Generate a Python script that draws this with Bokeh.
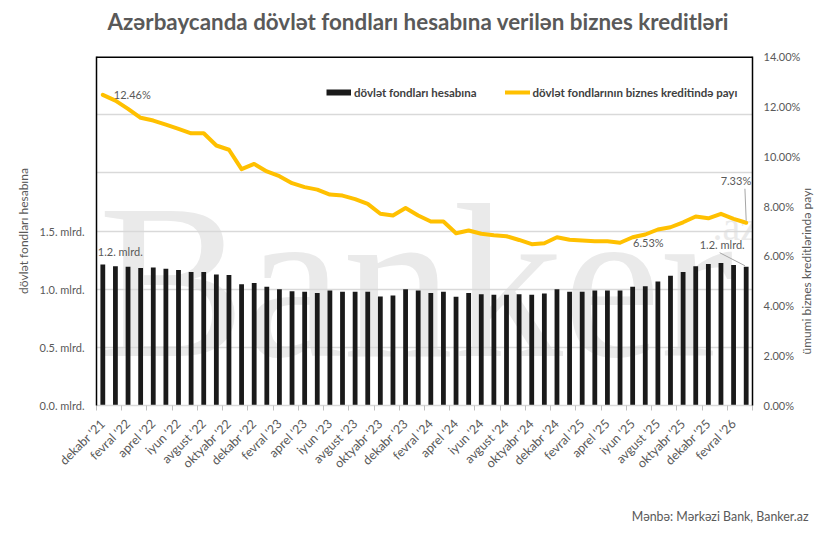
import math
from bokeh.plotting import figure
from bokeh.models import (Range1d, LinearAxis, FixedTicker, PrintfTickFormatter,
                          Label, Legend, LegendItem, Title, Span)
from bokeh.embed import file_html
from bokeh.resources import INLINE

# ---------------- data ----------------
months = [
    "dekabr '21",
    "yanvar '22", "fevral '22", "mart '22", "aprel '22", "may '22", "iyun '22",
    "iyul '22", "avgust '22", "sentyabr '22", "oktyabr '22", "noyabr '22", "dekabr '22",
    "yanvar '23", "fevral '23", "mart '23", "aprel '23", "may '23", "iyun '23",
    "iyul '23", "avgust '23", "sentyabr '23", "oktyabr '23", "noyabr '23", "dekabr '23",
    "yanvar '24", "fevral '24", "mart '24", "aprel '24", "may '24", "iyun '24",
    "iyul '24", "avgust '24", "sentyabr '24", "oktyabr '24", "noyabr '24", "dekabr '24",
    "yanvar '25", "fevral '25", "mart '25", "aprel '25", "may '25", "iyun '25",
    "iyul '25", "avgust '25", "sentyabr '25", "oktyabr '25", "noyabr '25", "dekabr '25",
    "yanvar '26", "fevral '26", "mart '26",
]

# business loans financed from state funds, bln AZN
state_funds = [
    1.213, 1.198, 1.193, 1.181, 1.187, 1.175, 1.164, 1.147, 1.147, 1.126,
    1.121, 1.043, 1.054, 1.020, 1.000, 0.983, 0.977, 0.968, 0.989, 0.977,
    0.977, 0.977, 0.937, 0.945, 1.000, 0.989, 0.968, 0.977, 0.934, 0.968,
    0.957, 0.951, 0.951, 0.957, 0.951, 0.963, 1.000, 0.977, 0.977, 0.989,
    0.989, 0.989, 1.020, 1.026, 1.066, 1.115, 1.147, 1.198, 1.216, 1.224,
    1.207, 1.193,
]

# share of state funds in total business loans, %
share = [
    12.46, 12.23, 11.90, 11.54, 11.43, 11.27, 11.10, 10.92, 10.92, 10.43,
    10.26, 9.48, 9.69, 9.39, 9.20, 8.92, 8.76, 8.66, 8.46, 8.42,
    8.28, 8.09, 7.69, 7.62, 7.92, 7.62, 7.38, 7.38, 6.91, 7.02,
    6.89, 6.83, 6.79, 6.64, 6.47, 6.51, 6.75, 6.65, 6.62, 6.59,
    6.59, 6.53, 6.75, 6.86, 7.06, 7.15, 7.35, 7.58, 7.51, 7.69,
    7.49, 7.33,
]

left_ticks = [0.0, 0.5, 1.0, 1.5, 2.0, 2.5, 3.0]
left_labels = {0.0: "0.0. mlrd.", 0.5: "0.5. mlrd.", 1.0: "1.0. mlrd.", 1.5: "1.5. mlrd.",
               2.0: "", 2.5: "", 3.0: ""}
right_ticks = [0, 2, 4, 6, 8, 10, 12, 14]

title_text = "Azərbaycanda dövlət fondları hesabına verilən biznes kreditləri"
bar_name = "dövlət fondları hesabına"
line_name = "dövlət fondlarının biznes kreditində payı"
left_title = "dövlət fondları hesabına"
right_title = "ümumi biznes kreditlərində payı"
source_text = "Mənbə: Mərkəzi Bank, Banker.az"
watermark = "Banker"
watermark_tail = ".az"

# ---------------- layout ----------------
FONT = "Lato"
GRAY = "#595959"
W, H = 829, 540
FL, FT, FW, FH = 96, 56, 656, 349            # plot frame in page px
N = len(months)
idx = list(range(N))

def dx(px):      # page px -> x data
    return -0.5 + (px - FL) / (FW / N)

def dy(py):      # page px -> left-axis data
    return (FT + FH - py) / (FH / 3.0)

p = figure(width=W, height=H, output_backend="svg", toolbar_location=None,
           x_range=Range1d(-0.5, N - 0.5), y_range=Range1d(0, 3.0),
           min_border_left=FL, min_border_right=W - FL - FW,
           min_border_top=FT, min_border_bottom=H - FT - FH)
p.extra_y_ranges = {"pct": Range1d(0, 14)}
p.outline_line_color = None
p.background_fill_color = "white"
p.border_fill_color = "white"

# title (trailing empty line lifts it away from the plot area)
p.title.text = title_text + "\n"
p.title.align = "left"
p.title.offset = 11
p.title.text_font = FONT
p.title.text_font_style = "bold"
p.title.text_font_size = "22.4px"
p.title.text_line_height = 0.8
p.title.text_color = GRAY
p.title.standoff = 0

# watermark (faint, behind everything)
p.add_layout(Label(x=dx(98), y=dy(281), text=watermark, text_font="Liberation Serif",
                   text_font_size="220px", text_color="#eaeaea", text_baseline="middle",
                   level="image"))
p.add_layout(Label(x=dx(712), y=dy(226), text=watermark_tail, text_font="Liberation Serif",
                   text_font_size="40px", text_color="#eaeaea", text_baseline="middle",
                   level="image"))

# grid
p.xgrid.grid_line_color = None
p.ygrid.ticker = FixedTicker(ticks=left_ticks)
p.ygrid.grid_line_color = "#d9d9d9"
p.ygrid.grid_line_width = 1.5

# bars & line
bars = p.vbar(x=idx, top=state_funds, width=0.38, fill_color="#1a1a1a", line_color=None)
ln = p.line(x=idx, y=share, y_range_name="pct", line_color="#FFC000", line_width=4,
            line_join="round", line_cap="round")
legend_proxy = p.line(x=idx, y=state_funds, line_color="#1a1a1a", line_width=6, visible=False)

# top border of the plot area
p.add_layout(Span(location=3.0, dimension="width", line_color="black", line_width=3))

# x axis: labels every 2nd month, tick marks between category pairs
xa = p.xaxis[0]
label_pos = list(range(0, N, 2))
try:
    xa.ticker = FixedTicker(ticks=label_pos, minor_ticks=[i - 0.5 for i in range(0, N + 1, 2)])
    xa.major_tick_line_color = None
    xa.minor_tick_line_color = "#bfbfbf"
    xa.minor_tick_out = 5
    xa.minor_tick_in = 0
except Exception:
    xa.ticker = FixedTicker(ticks=label_pos)
    xa.major_tick_line_color = "#bfbfbf"
    xa.minor_tick_line_color = None
xa.major_label_overrides = {i: months[i] for i in label_pos}
xa.major_label_orientation = math.pi / 4
xa.axis_line_color = "#d9d9d9"
xa.axis_line_width = 1.5
xa.major_tick_out = 5
xa.major_tick_in = 0
xa.major_label_text_font = FONT
xa.major_label_text_font_size = "12.5px"
xa.major_label_text_color = GRAY
xa.major_label_standoff = 11

# left axis
ya = p.yaxis[0]
ya.ticker = FixedTicker(ticks=left_ticks)
ya.major_label_overrides = left_labels
ya.axis_line_color = "black"
ya.axis_line_width = 1.5
ya.major_tick_line_color = None
ya.major_tick_out = 0
ya.major_tick_in = 0
ya.minor_tick_line_color = None
ya.major_label_text_font = FONT
ya.major_label_text_font_size = "11px"
ya.major_label_text_color = GRAY
ya.major_label_standoff = 12
ya.axis_label = left_title
ya.axis_label_text_font = FONT
ya.axis_label_text_font_style = "normal"
ya.axis_label_text_font_size = "12px"
ya.axis_label_text_color = GRAY
ya.axis_label_standoff = 6

# right axis
ra = LinearAxis(y_range_name="pct", ticker=FixedTicker(ticks=right_ticks),
                formatter=PrintfTickFormatter(format="%.2f%%"))
ra.axis_line_color = "black"
ra.axis_line_width = 1.5
ra.major_tick_line_color = None
ra.major_tick_out = 0
ra.major_tick_in = 0
ra.minor_tick_line_color = None
ra.major_label_text_font = FONT
ra.major_label_text_font_size = "11px"
ra.major_label_text_color = GRAY
ra.major_label_standoff = 11
ra.axis_label_text_font = FONT
ra.axis_label_text_font_style = "normal"
ra.axis_label_text_font_size = "12px"
ra.axis_label_text_color = GRAY
ra.axis_label_standoff = 3
# read bottom-to-top like the reference; the label then starts at its anchor,
# so anchor it at the bottom and pad it up to the middle of the axis
pad = ""
try:
    ra.axis_label_orientation = math.pi / 2
    try:
        ra.axis_label_align = "start"
        pad = "\u2003" * 5 + "\u2002"
    except Exception:
        ra.axis_label_orientation = "parallel"
except Exception:
    pass
ra.axis_label = pad + right_title
p.add_layout(ra, "right")

# source note
p.add_layout(Title(text="\n" + source_text, align="right", offset=-56, text_font=FONT,
                   text_font_style="normal", text_font_size="12.4px", text_color=GRAY,
                   standoff=24), "below")

# data labels
lbl = dict(text_font=FONT, text_font_size="11px", text_color=GRAY, text_baseline="middle")
p.add_layout(Label(x=0, y=share[0], y_range_name="pct", x_offset=11,
                   text=f"{share[0]:.2f}%", text_align="left", **lbl))
p.add_layout(Label(x=41, y=share[41], y_range_name="pct", x_offset=13,
                   text=f"{share[41]:.2f}%", text_align="left", **lbl))
p.add_layout(Label(x=N - 1, y=share[-1], y_range_name="pct", x_offset=5, y_offset=42,
                   text=f"{share[-1]:.2f}%", text_align="right", **lbl))
p.add_layout(Label(x=0, y=state_funds[0], x_offset=-5, y_offset=13,
                   text=f"{state_funds[0]:.1f}. mlrd.", text_align="left", **lbl))
p.add_layout(Label(x=N - 1, y=state_funds[-1], x_offset=-24, y_offset=22,
                   text=f"{state_funds[-1]:.1f}. mlrd.", text_align="center", **lbl))

# leader lines
pct_per_px = 14 / FH
mlrd_per_px = 3.0 / FH
p.segment(x0=[N - 1], y0=[share[-1] + 2 * pct_per_px], x1=[N - 1 - 0.1],
          y1=[share[-1] + 34 * pct_per_px], y_range_name="pct", line_color="#a6a6a6", line_width=1)
p.segment(x0=[N - 1 - 0.1], y0=[state_funds[-1] + 1 * mlrd_per_px], x1=[N - 1 - 2.1],
          y1=[state_funds[-1] + 14 * mlrd_per_px], line_color="#a6a6a6", line_width=1)

# legend
legend = Legend(items=[LegendItem(label=bar_name, renderers=[legend_proxy]),
                       LegendItem(label=line_name, renderers=[ln])],
                orientation="horizontal", location=(230, FH - 43),
                glyph_width=25, glyph_height=14, label_height=14, label_standoff=3,
                spacing=28, padding=0, margin=0, border_line_color=None,
                background_fill_alpha=0, label_text_font=FONT,
                label_text_font_style="bold", label_text_font_size="11.5px",
                label_text_color="#404040")
p.add_layout(legend, "center")

open("out.html", "w").write(file_html(p, INLINE))
